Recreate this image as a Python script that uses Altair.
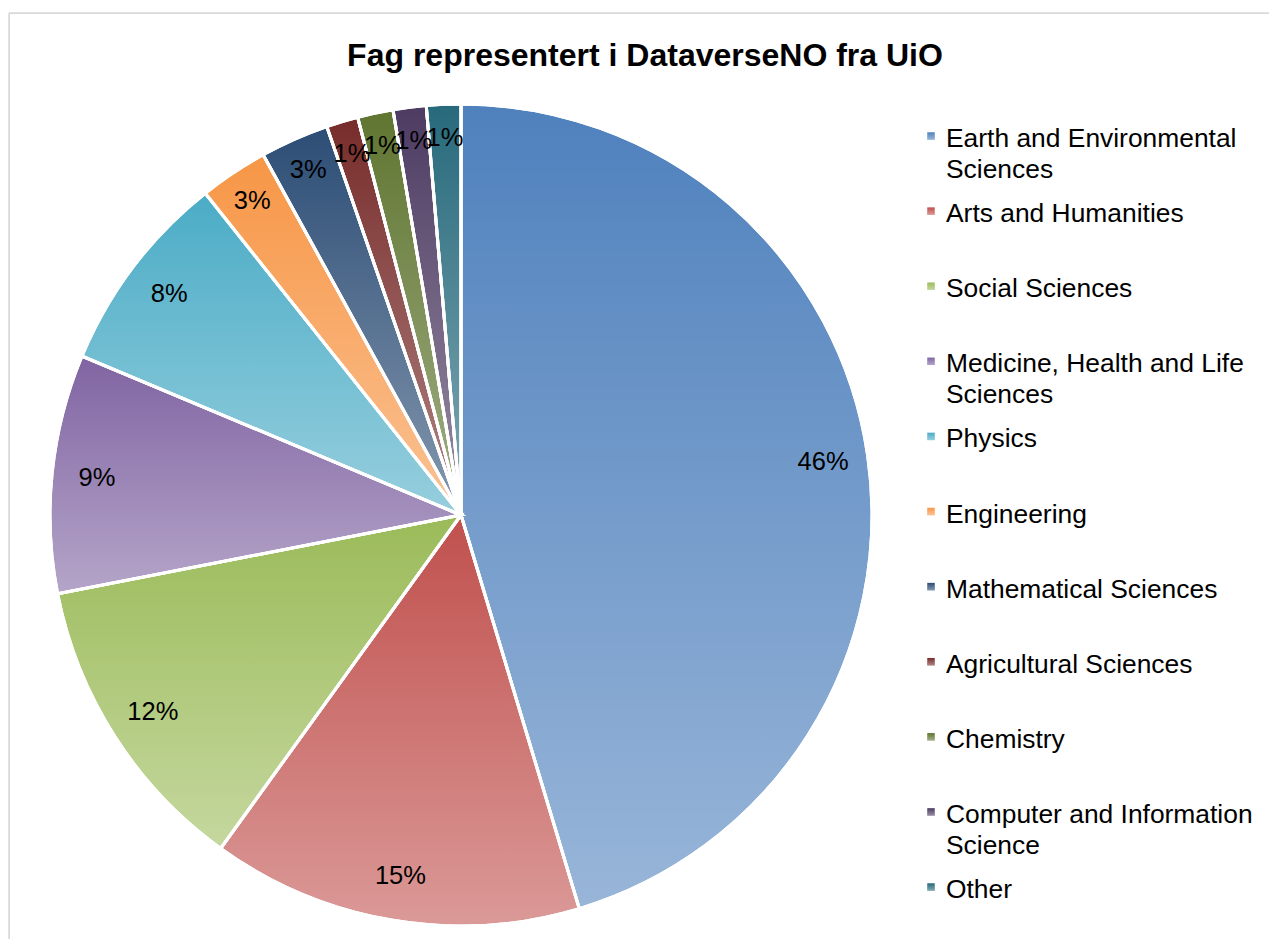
import altair as alt
import pandas as pd

FONT = "Liberation Sans"

title_text = "Fag representert i DataverseNO fra UiO"

categories = [
    "Earth and Environmental Sciences",
    "Arts and Humanities",
    "Social Sciences",
    "Medicine, Health and Life Sciences",
    "Physics",
    "Engineering",
    "Mathematical Sciences",
    "Agricultural Sciences",
    "Chemistry",
    "Computer and Information Science",
    "Other",
]
legend_labels = [
    "Earth and Environmental\nSciences",
    "Arts and Humanities",
    "Social Sciences",
    "Medicine, Health and Life\nSciences",
    "Physics",
    "Engineering",
    "Mathematical Sciences",
    "Agricultural Sciences",
    "Chemistry",
    "Computer and Information\nScience",
    "Other",
]
shares = [45.4, 14.6, 12.0, 9.4, 8.0, 2.7, 2.7, 1.25, 1.4, 1.3, 1.35]
pct_labels = ["46%", "15%", "12%", "9%", "8%", "3%", "3%", "1%", "1%", "1%", "1%"]
colors = ["#4F81BD", "#C0504D", "#9BBB59", "#8064A2", "#4BACC6", "#F79646",
          "#2C4D75", "#772C2A", "#5F7530", "#4D3B62", "#276A7C"]

df = pd.DataFrame({
    "cat": categories,
    "legend": legend_labels,
    "share": shares,
    "label": pct_labels,
    "idx": list(range(len(categories))),
})

W, H = 1260, 926
CX, CY, R = 452, 502, 411

shine = alt.Gradient(
    gradient="linear", x1=0, y1=0, x2=0, y2=1,
    stops=[alt.GradientStop(offset=0, color="rgba(255,255,255,0)"),
           alt.GradientStop(offset=1, color="rgba(255,255,255,0.42)")],
)

color_enc = alt.Color("cat:N", scale=alt.Scale(domain=categories, range=colors), legend=None)
theta_enc = alt.Theta("share:Q", stack=True)
order_enc = alt.Order("idx:Q")

base = alt.Chart(df)

pie = base.mark_arc(radius=R, stroke="white", strokeWidth=3).encode(
    theta=theta_enc, order=order_enc, color=color_enc,
    x=alt.value(CX), y=alt.value(CY),
)
pie_shine = base.mark_arc(radius=R, stroke="white", strokeWidth=3, fill=shine).encode(
    theta=theta_enc, order=order_enc,
    x=alt.value(CX), y=alt.value(CY),
)
labels_big = base.transform_calculate(
    t="datum.share >= 5 ? datum.label : ''"
).mark_text(radius=366, fontSize=25.5, font=FONT, color="black").encode(
    theta=theta_enc, order=order_enc, text="t:N",
    x=alt.value(CX), y=alt.value(CY),
)
labels_small = base.transform_calculate(
    t="datum.share < 5 ? datum.label : ''"
).mark_text(radius=377, fontSize=25.5, font=FONT, color="black").encode(
    theta=theta_enc, order=order_enc, text="t:N",
    x=alt.value(CX), y=alt.value(CY),
)

y_leg = alt.Y("cat:N", sort=categories, scale=alt.Scale(range=[134, 885], padding=0), axis=None)

leg_sq = base.mark_square(size=56, yOffset=-11, opacity=1).encode(
    x=alt.value(922), y=y_leg, color=color_enc,
)
leg_sq_shine = base.mark_square(size=56, yOffset=-11, opacity=1, fill=shine).encode(
    x=alt.value(922), y=y_leg,
)
leg_text = base.mark_text(align="left", baseline="alphabetic", fontSize=26.4, font=FONT,
                          lineBreak="\n", lineHeight=31, color="black").encode(
    x=alt.value(937), y=y_leg, text="legend:N",
)

title = alt.Chart(pd.DataFrame({"t": [title_text]})).mark_text(
    fontSize=32, fontWeight="bold", font=FONT, color="black", baseline="middle"
).encode(text="t:N", x=alt.value(636), y=alt.value(43))

border_top = alt.Chart(pd.DataFrame({"a": [0]})).mark_rule(color="#d9d9d9", strokeWidth=1.5).encode(
    x=alt.value(0), x2=alt.value(W), y=alt.value(0)
)
border_left = alt.Chart(pd.DataFrame({"a": [0]})).mark_rule(color="#d9d9d9", strokeWidth=1.5).encode(
    x=alt.value(0), y=alt.value(0), y2=alt.value(H)
)

chart = alt.layer(
    border_top, border_left, pie, pie_shine, labels_big, labels_small,
    leg_sq, leg_sq_shine, leg_text, title
).properties(
    width=W, height=H,
    padding={"left": 1, "top": 5, "right": 0, "bottom": 0},
    autosize=alt.AutoSizeParams(type="none"),
).configure_view(stroke=None).configure(background="white")

chart.save("out.html", embed_options={"renderer": "svg", "actions": False})
